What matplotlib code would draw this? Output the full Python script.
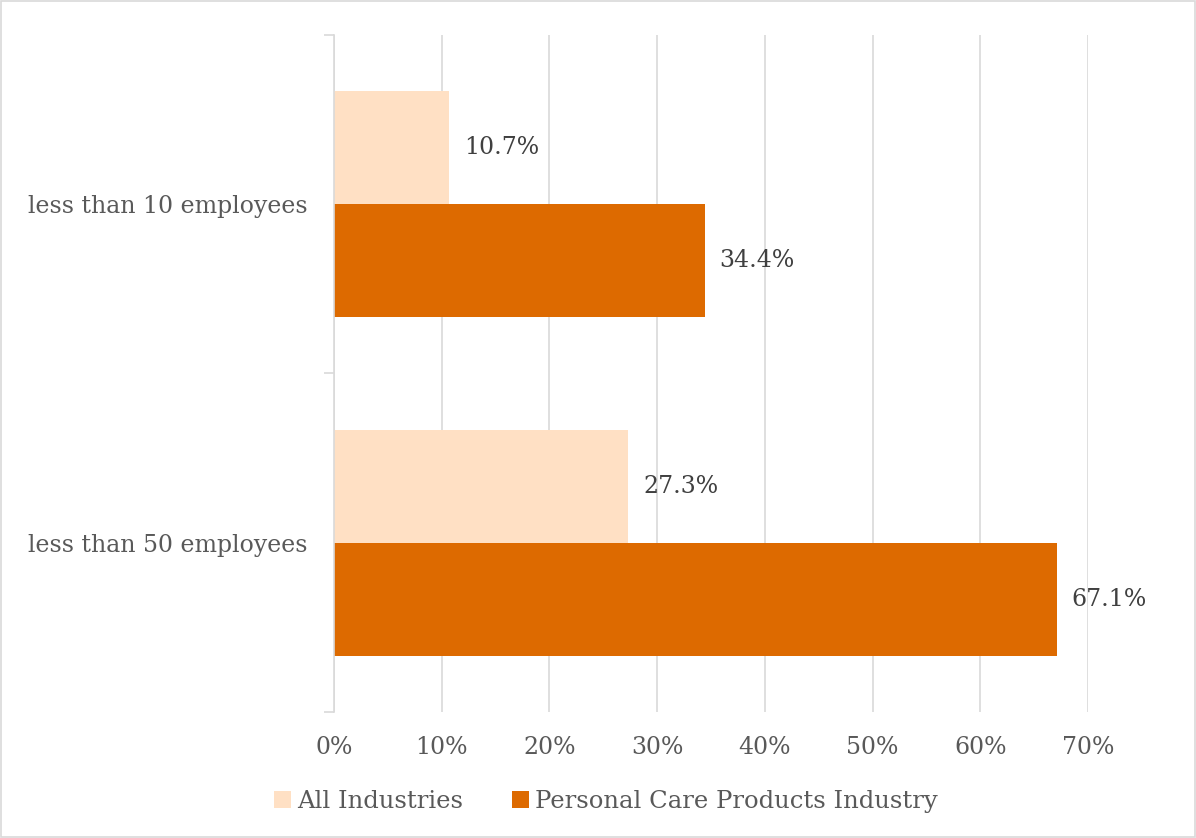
import numpy as np
import matplotlib.pyplot as plt
from matplotlib.patches import Rectangle

# business size shares, percent
categories = ["less than 10 employees", "less than 50 employees"]
all_industries = [10.7, 27.3]
personal_care = [34.4, 67.1]
series_names = ["All Industries", "Personal Care Products Industry"]
colors = ["#FFE0C4", "#DD6A00"]

plt.rcParams['font.family'] = ['DejaVu Serif']

fig = plt.figure(figsize=(11.96, 8.38), dpi=100)
ax = fig.add_axes([0.2793, 0.1504, 0.6304, 0.8078])

y = np.arange(len(categories))
h = 0.334
b1 = ax.barh(y - h / 2, all_industries, height=h, color=colors[0], label=series_names[0], zorder=2)
b2 = ax.barh(y + h / 2, personal_care, height=h, color=colors[1], label=series_names[1], zorder=2)

for bars, vals in ((b1, all_industries), (b2, personal_care)):
    for rect, v in zip(bars, vals):
        ax.annotate(f"{v:.1f}%", (v, rect.get_y() + rect.get_height() / 2),
                    xytext=(15, 0), textcoords="offset pixels",
                    va="center", ha="left", fontsize=17, color="#404040")

ax.set_xlim(0, 70)
ax.set_ylim(1.5, -0.5)
ax.set_xticks(np.arange(0, 71, 10))
ax.set_xticklabels([f"{t}%" for t in range(0, 71, 10)])
ax.set_yticks(y)
ax.set_yticklabels(categories)
ax.set_yticks([-0.5, 0.5, 1.5], minor=True)
ax.tick_params(axis="y", which="major", length=0, pad=19, labelsize=17, labelcolor="#595959")
ax.tick_params(axis="y", which="minor", length=7, color="#D9D9D9", width=1.2)
ax.tick_params(axis="x", length=0, pad=17, labelsize=17, labelcolor="#595959")

ax.grid(axis="x", color="#D9D9D9", lw=1.2, zorder=0)
for s in ("top", "right", "bottom"):
    ax.spines[s].set_visible(False)
ax.spines["left"].set_color("#D9D9D9")
ax.spines["left"].set_linewidth(1.2)

fig.legend(handles=[b1, b2], loc="center", bbox_to_anchor=(0.5067, 0.043), ncol=2,
           frameon=False, fontsize=17.5, labelcolor="#595959", handlelength=0.7,
           handleheight=0.7, handletextpad=0.25, columnspacing=2.03)

# thin frame around the whole chart
fig.patches.append(Rectangle((0.001, 0.001), 0.998, 0.998, transform=fig.transFigure,
                             fill=False, edgecolor="#D9D9D9", lw=1.2))

fig.savefig("out.png", dpi=100)
